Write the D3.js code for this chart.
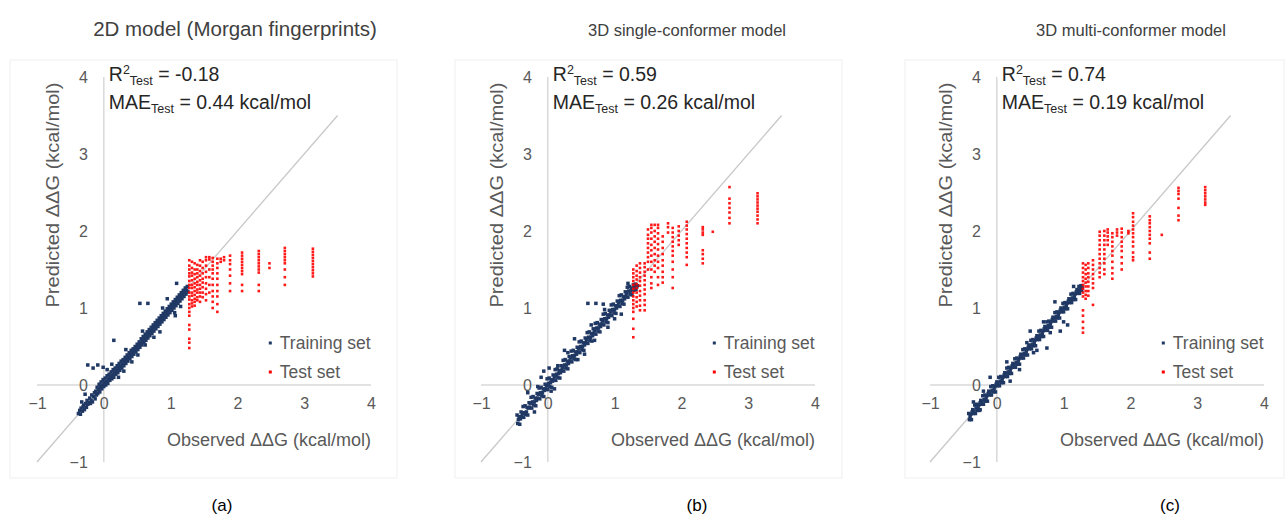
<!DOCTYPE html>
<html><head><meta charset="utf-8">
<script src="https://cdn.jsdelivr.net/npm/d3@7/dist/d3.min.js"></script>
<style>
body{margin:0;background:#fff}
svg{display:block}
text{font-family:"Liberation Sans",Arial,sans-serif}
</style>
</head><body>
<svg id="chart" width="1287" height="517"></svg>
<script>
// ---------- data ----------
const axisTicks = [-1, 0, 1, 2, 3, 4];
const panelTitles = ["2D model (Morgan fingerprints)", "3D single-conformer model", "3D multi-conformer model"];
const panelLetters = ["(a)", "(b)", "(c)"];
const r2Values = ["-0.18", "0.59", "0.74"];
const maeValues = ["0.44", "0.26", "0.19"];
const legendLabels = ["Training set", "Test set"];
const diagonalEnds = [-1, 3.5];
const xAxisTitle = "Observed \u0394\u0394G (kcal/mol)";
const yAxisTitle = "Predicted \u0394\u0394G (kcal/mol)";

// training set: [observed, predicted]
const trainA = [[-0.38,-0.37],[-0.36,-0.33],[-0.35,-0.38],[-0.34,-0.3],[-0.32,-0.34],[-0.31,-0.28],[-0.3,-0.26],[-0.29,-0.32],[-0.27,-0.24],[-0.26,-0.29],[-0.25,-0.2],[-0.24,-0.25],[-0.22,-0.23],[-0.21,-0.17],[-0.2,-0.24],[-0.19,-0.2],[-0.18,-0.13],[-0.17,-0.22],[-0.15,-0.15],[-0.14,-0.1],[-0.13,-0.18],[-0.12,-0.08],[-0.11,-0.13],[-0.1,-0.03],[-0.09,-0.11],[-0.08,-0.06],[-0.07,0.01],[-0.06,-0.09],[-0.05,-0.02],[-0.04,0.04],[-0.03,-0.05],[-0.02,0.0],[-0.01,0.07],[0.0,-0.02],[0.01,0.03],[0.02,0.09],[0.03,0.0],[0.04,0.05],[0.05,0.12],[0.06,0.02],[0.07,0.08],[0.08,0.14],[0.09,0.06],[0.1,0.1],[0.11,0.17],[0.12,0.08],[0.13,0.13],[0.14,0.2],[0.15,0.1],[0.16,0.16],[0.17,0.22],[0.18,0.14],[0.19,0.19],[0.2,0.25],[0.21,0.16],[0.22,0.22],[0.23,0.28],[0.24,0.19],[0.25,0.24],[0.26,0.31],[0.27,0.22],[0.28,0.27],[0.29,0.33],[0.3,0.25],[0.31,0.3],[0.32,0.36],[0.33,0.28],[0.34,0.33],[0.35,0.39],[0.36,0.31],[0.37,0.36],[0.38,0.42],[0.39,0.34],[0.4,0.39],[0.41,0.45],[0.42,0.37],[0.43,0.42],[0.44,0.47],[0.45,0.4],[0.46,0.45],[0.47,0.5],[0.48,0.43],[0.49,0.48],[0.5,0.53],[0.51,0.46],[0.52,0.51],[0.53,0.56],[0.54,0.49],[0.55,0.54],[0.56,0.6],[0.57,0.52],[0.58,0.57],[0.59,0.63],[0.6,0.55],[0.61,0.6],[0.62,0.66],[0.63,0.58],[0.64,0.63],[0.65,0.69],[0.66,0.61],[0.67,0.66],[0.68,0.72],[0.69,0.64],[0.7,0.69],[0.71,0.75],[0.72,0.67],[0.73,0.72],[0.74,0.78],[0.75,0.7],[0.76,0.75],[0.77,0.81],[0.78,0.73],[0.79,0.78],[0.8,0.84],[0.81,0.76],[0.82,0.81],[0.83,0.87],[0.84,0.79],[0.85,0.84],[0.86,0.9],[0.87,0.82],[0.88,0.87],[0.89,0.93],[0.9,0.85],[0.91,0.9],[0.92,0.96],[0.93,0.88],[0.94,0.93],[0.95,0.99],[0.96,0.91],[0.97,0.96],[0.98,1.02],[0.99,0.94],[1.0,0.99],[1.01,1.05],[1.02,0.97],[1.03,1.02],[1.04,1.08],[1.05,1.0],[1.06,1.05],[1.07,1.11],[1.08,1.03],[1.09,1.08],[1.1,1.14],[1.11,1.06],[1.12,1.11],[1.13,1.17],[1.14,1.09],[1.15,1.14],[1.16,1.2],[1.17,1.12],[1.18,1.17],[1.19,1.23],[1.2,1.15],[1.21,1.2],[1.22,1.26],[1.23,1.18],[1.24,1.23],[1.25,1.28],[1.26,1.21],
 [0.54,1.06],[0.66,1.06],[1.09,1.32],[0.15,0.58],[-0.24,0.26],[-0.16,0.22],[-0.09,0.26],[-0.01,0.23],[1.06,0.94],[1.07,0.9],[0.84,0.69],[0.51,0.39],[0.33,0.46],[0.62,0.52],[0.42,0.3],[0.75,0.62],[0.95,1.12],[0.22,0.1],[0.05,0.2],[-0.28,-0.12],[0.3,0.18],[0.58,0.7],[0.88,1.0],[1.15,1.02],[-0.33,-0.22],[0.12,0.27]];
const trainB = [[-0.46,-0.39],[-0.45,-0.5],[-0.43,-0.41],[-0.42,-0.51],[-0.4,-0.35],[-0.39,-0.41],[-0.37,-0.28],[-0.36,-0.42],[-0.34,-0.27],[-0.33,-0.38],[-0.31,-0.29],[-0.3,-0.39],[-0.28,-0.23],[-0.27,-0.29],[-0.25,-0.16],[-0.24,-0.3],[-0.22,-0.15],[-0.21,-0.26],[-0.19,-0.17],[-0.18,-0.27],[-0.16,-0.11],[-0.15,-0.17],[-0.13,-0.04],[-0.12,-0.18],[-0.1,-0.03],[-0.09,-0.14],[-0.07,-0.05],[-0.06,-0.15],[-0.04,0.01],[-0.03,-0.05],[-0.01,0.08],[0.0,-0.06],[0.02,0.09],[0.03,-0.02],[0.05,0.07],[0.06,-0.03],[0.08,0.13],[0.09,0.07],[0.11,0.2],[0.12,0.06],[0.14,0.21],[0.15,0.1],[0.17,0.19],[0.18,0.09],[0.2,0.25],[0.21,0.19],[0.23,0.32],[0.24,0.18],[0.26,0.33],[0.27,0.22],[0.29,0.31],[0.3,0.21],[0.32,0.37],[0.33,0.31],[0.35,0.44],[0.36,0.3],[0.38,0.45],[0.39,0.34],[0.41,0.43],[0.42,0.33],[0.44,0.49],[0.45,0.43],[0.47,0.56],[0.48,0.42],[0.5,0.57],[0.51,0.46],[0.53,0.55],[0.54,0.45],[0.56,0.61],[0.57,0.55],[0.59,0.68],[0.6,0.54],[0.62,0.69],[0.63,0.58],[0.65,0.67],[0.66,0.57],[0.68,0.73],[0.69,0.67],[0.71,0.8],[0.72,0.66],[0.74,0.81],[0.75,0.7],[0.77,0.79],[0.78,0.69],[0.8,0.85],[0.81,0.79],[0.83,0.92],[0.84,0.78],[0.86,0.93],[0.87,0.82],[0.89,0.91],[0.9,0.81],[0.92,0.97],[0.93,0.91],[0.95,1.04],[0.96,0.9],[0.98,1.05],[0.99,0.94],[1.01,1.03],[1.02,0.93],[1.04,1.09],[1.05,1.03],[1.07,1.16],[1.08,1.02],[1.1,1.17],[1.11,1.06],[1.13,1.15],[1.14,1.05],[1.16,1.21],[1.17,1.15],[1.19,1.27],[1.2,1.14],[1.22,1.28],[1.23,1.18],[1.25,1.26],[1.26,1.17],[1.28,1.3],[1.29,1.23],[1.31,1.31],[1.32,1.24],[1.34,1.29],
 [-0.41,-0.44],[-0.35,-0.36],[-0.29,-0.3],[-0.23,-0.22],[-0.17,-0.2],[-0.11,-0.1],[-0.05,-0.07],[0.01,0.02],[0.07,0.05],[0.13,0.14],[0.19,0.16],[0.25,0.26],[0.31,0.28],[0.37,0.38],[0.43,0.4],[0.49,0.5],[0.55,0.52],[0.61,0.62],[0.67,0.64],[0.73,0.74],[0.79,0.76],[0.85,0.86],[0.91,0.88],[0.97,0.98],[1.03,1.0],[1.09,1.1],[1.15,1.12],[1.21,1.22],[1.27,1.24],[1.33,1.27],
 [-0.44,-0.45],[-0.38,-0.37],[-0.32,-0.35],[-0.26,-0.24],[-0.2,-0.22],[-0.14,-0.12],[-0.08,-0.1],[-0.02,-0.01],[0.04,0.03],[0.1,0.11],[0.16,0.15],[0.22,0.23],[0.28,0.26],[0.34,0.35],[0.4,0.38],[0.46,0.47],[0.52,0.5],[0.58,0.59],[0.64,0.62],[0.7,0.71],[0.76,0.74],[0.82,0.83],[0.88,0.86],[0.94,0.95],[1.0,0.98],[1.06,1.07],[1.12,1.1],[1.18,1.19],[1.24,1.22],[1.3,1.28],
 [0.6,1.06],[0.72,1.06],[-0.1,0.1],[-0.06,0.18],[0.02,0.22],[0.1,-0.05],[0.4,0.6],[0.55,0.4],[0.83,1.05],[1.1,0.92],[-0.3,-0.1],[-0.2,-0.35],[0.25,0.45],[0.9,0.75],[0.3,0.42],[0.45,0.33],[0.65,0.78],[0.7,0.58],[0.85,0.98],[1.0,0.86],[1.2,1.32],[0.15,0.25],[-0.15,-0.02],[0.05,-0.08]];
const trainC = [[-0.42,-0.37],[-0.41,-0.45],[-0.39,-0.38],[-0.38,-0.45],[-0.36,-0.32],[-0.35,-0.37],[-0.33,-0.26],[-0.32,-0.37],[-0.3,-0.25],[-0.29,-0.33],[-0.27,-0.26],[-0.26,-0.33],[-0.24,-0.2],[-0.23,-0.25],[-0.21,-0.14],[-0.2,-0.25],[-0.18,-0.13],[-0.17,-0.21],[-0.15,-0.14],[-0.14,-0.21],[-0.12,-0.08],[-0.11,-0.13],[-0.09,-0.02],[-0.08,-0.13],[-0.06,-0.01],[-0.05,-0.09],[-0.03,-0.02],[-0.02,-0.09],[0.0,0.04],[0.01,-0.01],[0.03,0.1],[0.04,-0.01],[0.06,0.11],[0.07,0.03],[0.09,0.1],[0.1,0.03],[0.12,0.16],[0.13,0.11],[0.15,0.22],[0.16,0.11],[0.18,0.23],[0.19,0.15],[0.21,0.22],[0.22,0.15],[0.24,0.28],[0.25,0.23],[0.27,0.34],[0.28,0.23],[0.3,0.35],[0.31,0.27],[0.33,0.34],[0.34,0.27],[0.36,0.4],[0.37,0.35],[0.39,0.46],[0.4,0.35],[0.42,0.47],[0.43,0.39],[0.45,0.46],[0.46,0.39],[0.48,0.52],[0.49,0.47],[0.51,0.58],[0.52,0.47],[0.54,0.59],[0.55,0.51],[0.57,0.58],[0.58,0.51],[0.6,0.64],[0.61,0.59],[0.63,0.7],[0.64,0.59],[0.66,0.71],[0.67,0.63],[0.69,0.7],[0.7,0.63],[0.72,0.76],[0.73,0.71],[0.75,0.82],[0.76,0.71],[0.78,0.83],[0.79,0.75],[0.81,0.82],[0.82,0.75],[0.84,0.88],[0.85,0.83],[0.87,0.94],[0.88,0.83],[0.9,0.95],[0.91,0.87],[0.93,0.94],[0.94,0.87],[0.96,1.0],[0.97,0.95],[0.99,1.06],[1.0,0.95],[1.02,1.07],[1.03,0.99],[1.05,1.06],[1.06,0.99],[1.08,1.12],[1.09,1.07],[1.11,1.18],[1.12,1.07],[1.14,1.19],[1.15,1.11],[1.17,1.18],[1.18,1.11],[1.2,1.24],[1.21,1.19],[1.23,1.28],[1.24,1.19],[1.26,1.29],[1.27,1.23],[1.28,1.26],
 [-0.4,-0.41],[-0.34,-0.34],[-0.28,-0.29],[-0.22,-0.21],[-0.16,-0.17],[-0.1,-0.09],[-0.04,-0.05],[0.02,0.03],[0.08,0.07],[0.14,0.15],[0.2,0.19],[0.26,0.27],[0.32,0.31],[0.38,0.39],[0.44,0.43],[0.5,0.51],[0.56,0.55],[0.62,0.63],[0.68,0.67],[0.74,0.75],[0.8,0.79],[0.86,0.87],[0.92,0.91],[0.98,0.99],[1.04,1.03],[1.1,1.11],[1.16,1.15],[1.22,1.23],
 [-0.37,-0.35],[-0.31,-0.3],[-0.25,-0.23],[-0.19,-0.19],[-0.13,-0.11],[-0.07,-0.07],[-0.01,0.01],[0.05,0.05],[0.11,0.13],[0.17,0.17],[0.23,0.25],[0.29,0.29],[0.35,0.37],[0.41,0.41],[0.47,0.49],[0.53,0.53],[0.59,0.61],[0.65,0.65],[0.71,0.73],[0.77,0.77],[0.83,0.85],[0.89,0.89],[0.95,0.97],[1.01,1.01],[1.07,1.09],[1.13,1.13],[1.19,1.21],[1.25,1.25],
 [0.87,1.08],[0.75,0.48],[1.06,0.78],[1.0,0.82],[0.34,0.2],[-0.35,-0.22],[-0.25,-0.32],[0.15,0.3],[0.5,0.7],[0.6,0.45],[-0.1,0.1],[0.95,0.7],[0.45,0.55],[0.55,0.42],[0.7,0.82],[0.8,0.68],[1.15,1.28],[0.2,0.05],[-0.2,-0.08]];

// test set: [observed, [predicted values]]
const testA = [
 [1.28,[1.62,1.55,1.5,1.45,1.41,1.35,1.3,1.26,1.2,1.15,1.11,1.05,1.0,0.95,0.9,0.78,0.72,0.6,0.55,0.48]],
 [1.32,[1.6,1.52,1.46,1.42,1.36,1.3,1.26,1.2,1.16,1.1,1.06,1.02]],
 [1.36,[1.58,1.5,1.44,1.38,1.32,1.27,1.22,1.17,1.12,1.08,1.03]],
 [1.4,[1.56,1.5,1.45,1.4,1.34,1.3,1.24,1.2,1.14,1.1]],
 [1.44,[1.62,1.55,1.48,1.42,1.36,1.3,1.25,1.2,1.15,1.08]],
 [1.48,[1.6,1.52,1.45,1.38,1.33,1.27,1.2,1.14]],
 [1.53,[1.66,1.62,1.55,1.47,1.4,1.32,1.25,1.18,1.1]],
 [1.58,[1.66,1.63,1.5,1.4,1.3,1.2]],
 [1.63,[1.65,1.6,1.55,1.5,1.45,1.38,1.3,1.22,1.15,1.08,1.0]],
 [1.7,[1.64,1.58,1.52,1.45,1.38,1.3,1.22,1.15,1.05,0.95]],
 [1.75,[1.64,1.6]],
 [1.8,[1.66,1.62]],
 [1.89,[1.68,1.62,1.57,1.5,1.42,1.32,1.22]],
 [2.07,[1.72,1.68,1.64,1.6,1.56,1.52,1.48,1.44,1.3,1.22]],
 [2.32,[1.74,1.7,1.66,1.62,1.58,1.54,1.5,1.46,1.3,1.22]],
 [2.48,[1.58,1.52]],
 [2.71,[1.78,1.74,1.7,1.66,1.62,1.58,1.5,1.4,1.3]],
 [3.13,[1.77,1.73,1.69,1.65,1.61,1.57,1.53,1.49,1.45,1.41]]];
const testB = [
 [1.28,[1.5,1.45,1.4,1.35,1.3,1.25,1.2,1.15,1.1,1.05,1.0,0.95,0.86,0.73,0.62]],
 [1.33,[1.55,1.48,1.42,1.37,1.31,1.26,1.2,1.14,1.08,1.02]],
 [1.38,[1.58,1.52,1.46,1.4,1.35,1.29,1.22,1.16,1.1,1.03,0.97]],
 [1.45,[1.58,1.53,1.47,1.42,1.36,1.3,1.24,1.18,1.1,1.04,0.97]],
 [1.5,[2.02,1.95,1.9,1.84,1.78,1.72,1.66,1.6,1.5]],
 [1.55,[2.08,2.04,1.98,1.9,1.82,1.75,1.68,1.6,1.5,1.4,1.32,1.26]],
 [1.6,[2.08,2.0,1.93,1.86,1.78,1.7,1.62,1.55,1.47]],
 [1.65,[2.08,2.04,1.97,1.9,1.83,1.76,1.68,1.6,1.52,1.4,1.3]],
 [1.72,[1.93,1.86,1.78,1.7,1.62,1.55,1.47,1.4,1.33]],
 [1.8,[2.1,2.05,1.98]],
 [1.87,[2.04,1.98,1.92,1.86,1.8,1.74,1.68,1.6,1.5,1.4,1.26]],
 [1.96,[2.06,2.0,1.94,1.88,1.82]],
 [2.08,[2.12,2.07,2.02,1.96,1.9,1.84,1.78,1.72,1.66,1.56]],
 [2.32,[2.05,2.02,1.98,1.95,1.75,1.7,1.64,1.58]],
 [2.47,[1.99]],
 [2.72,[2.57,2.42,2.36,2.3,2.24,2.17,2.1]],
 [3.14,[2.49,2.45,2.41,2.37,2.33,2.29,2.25,2.2,2.15,2.1]]];
const testC = [
 [1.29,[1.58,1.52,1.46,1.4,1.35,1.3,1.25,1.2,1.15,0.97,0.9,0.82,0.74,0.68]],
 [1.33,[1.56,1.5,1.44,1.38,1.33,1.28,1.22,1.17,1.12]],
 [1.37,[1.58,1.52,1.45,1.4,1.34,1.28,1.22,1.16]],
 [1.44,[1.62,1.56,1.5,1.44,1.38,1.32,1.26,1.04]],
 [1.54,[1.99,1.94,1.88,1.82,1.76,1.7,1.64,1.58,1.52,1.46,1.4]],
 [1.61,[2.0,1.94,1.88,1.82,1.76,1.7,1.64,1.58,1.5,1.44]],
 [1.66,[2.02,1.98,1.93,1.88,1.82]],
 [1.73,[1.97,1.92,1.86,1.8,1.74,1.68,1.6,1.52,1.45,1.38]],
 [1.8,[2.02,1.98,1.94]],
 [1.87,[2.03,1.98,1.92,1.86,1.8,1.74,1.66,1.58,1.5]],
 [1.97,[2.0,1.97]],
 [2.04,[2.23,2.18,2.12,2.07,2.02,1.97,1.92,1.86,1.8,1.72,1.66,1.62]],
 [2.29,[2.19,2.14,2.1,2.05,2.0,1.95,1.9,1.84,1.72,1.64]],
 [2.47,[1.95]],
 [2.72,[2.56,2.52,2.48,2.42,2.3,2.2,2.14]],
 [3.12,[2.57,2.53,2.49,2.45,2.41,2.37,2.34]]];

const trainSets = [trainA, trainB, trainC];
const testSets = [testA, testB, testC];

// ---------- layout ----------
const layout = [
  {xr:[37,371], box:[10,60,397,478], titleX:235, titleSize:20.5, letterX:222},
  {xr:[481,815], box:[455,60,842,478], titleX:687, titleSize:16.5, letterX:697},
  {xr:[930,1264], box:[905,60,1284,478], titleX:1131, titleSize:16.5, letterX:1170}
];
const yr = [462, 77];
const navy = "#203864", red = "#ff0000", grey = "#595959";

const svg = d3.select("#chart");

layout.forEach((L, i) => {
  const x = d3.scaleLinear().domain([-1,4]).range(L.xr);
  const y = d3.scaleLinear().domain([-1,4]).range(yr);
  const g = svg.append("g");

  g.append("rect").attr("x",L.box[0]).attr("y",L.box[1])
    .attr("width",L.box[2]-L.box[0]).attr("height",L.box[3]-L.box[1])
    .attr("fill","none").attr("stroke","#efefef").attr("stroke-width",1);

  g.append("line").attr("x1",x(-1)).attr("x2",x(4)).attr("y1",y(0)).attr("y2",y(0))
    .attr("stroke","#d9d9d9").attr("stroke-width",1.5);
  g.append("line").attr("x1",x(0)).attr("x2",x(0)).attr("y1",y(-1)).attr("y2",y(4))
    .attr("stroke","#d9d9d9").attr("stroke-width",1.5);

  const ax = g.append("g").attr("transform",`translate(0,${y(0)})`)
    .call(d3.axisBottom(x).tickValues(axisTicks).tickSize(0).tickPadding(13).tickFormat(d3.format("d")));
  const ay = g.append("g").attr("transform",`translate(${x(0)},0)`)
    .call(d3.axisLeft(y).tickValues(axisTicks).tickSize(0).tickPadding(16).tickFormat(d3.format("d")));
  [ax, ay].forEach(a => {
    a.select(".domain").remove();
    a.selectAll("text").attr("fill",grey).style("font-size","16px").style("font-family","Liberation Sans, Arial, sans-serif");
  });

  g.append("line").attr("x1",x(diagonalEnds[0])).attr("y1",y(diagonalEnds[0]))
    .attr("x2",x(diagonalEnds[1])).attr("y2",y(diagonalEnds[1]))
    .attr("stroke","#c8c8c8").attr("stroke-width",1.3);

  g.append("g").selectAll("rect").data(trainSets[i]).join("rect")
    .attr("x",d=>x(d[0])-1.75).attr("y",d=>y(d[1])-1.75)
    .attr("width",3.5).attr("height",3.5).attr("fill",navy);

  const testPts = testSets[i].flatMap(([ox, ps]) => ps.map(p => [ox, p]));
  g.append("g").selectAll("rect").data(testPts).join("rect")
    .attr("x",d=>x(d[0])-1.3).attr("y",d=>y(d[1])-1.3)
    .attr("width",2.6).attr("height",2.6).attr("fill",red).attr("fill-opacity",0.9);

  g.append("text").attr("x",L.titleX).attr("y",36).attr("text-anchor","middle")
    .attr("fill","#404040").style("font-size",L.titleSize+"px").text(panelTitles[i]);

  const t1 = g.append("text").attr("x",x(0)+5).attr("y",81).attr("fill","#262626").style("font-size","19.5px");
  t1.append("tspan").text("R");
  t1.append("tspan").attr("dy",-7).style("font-size","12.5px").text("2");
  t1.append("tspan").attr("dy",11).style("font-size","12.5px").text("Test");
  t1.append("tspan").attr("dy",-4).text(" = " + r2Values[i]);
  const t2 = g.append("text").attr("x",x(0)+5).attr("y",109).attr("fill","#262626").style("font-size","19.5px");
  t2.append("tspan").text("MAE");
  t2.append("tspan").attr("dy",4).style("font-size","12.5px").text("Test");
  t2.append("tspan").attr("dy",-4).text(" = " + maeValues[i] + " kcal/mol");

  legendLabels.forEach((lab, k) => {
    const ly = 343 + k*29;
    g.append("rect").attr("x",x(0)+165).attr("y",ly-1.5).attr("width",3).attr("height",3)
      .attr("fill", k===0 ? navy : red);
    g.append("text").attr("x",x(0)+176).attr("y",ly+6).attr("fill",grey)
      .style("font-size","17.5px").text(lab);
  });

  g.append("text").attr("x",x(4)).attr("y",446).attr("text-anchor","end")
    .attr("fill",grey).style("font-size","18px").text(xAxisTitle);
  g.append("text").attr("transform",`translate(${x(0)-45},${195}) rotate(-90)`)
    .attr("text-anchor","middle").attr("fill",grey).style("font-size","18px")
    .attr("textLength",225).attr("lengthAdjust","spacingAndGlyphs").text(yAxisTitle);

  svg.append("text").attr("x",L.letterX).attr("y",511).attr("text-anchor","middle")
    .attr("fill","#000").style("font-size","17px").text(panelLetters[i]);
});
</script>
</body></html>
